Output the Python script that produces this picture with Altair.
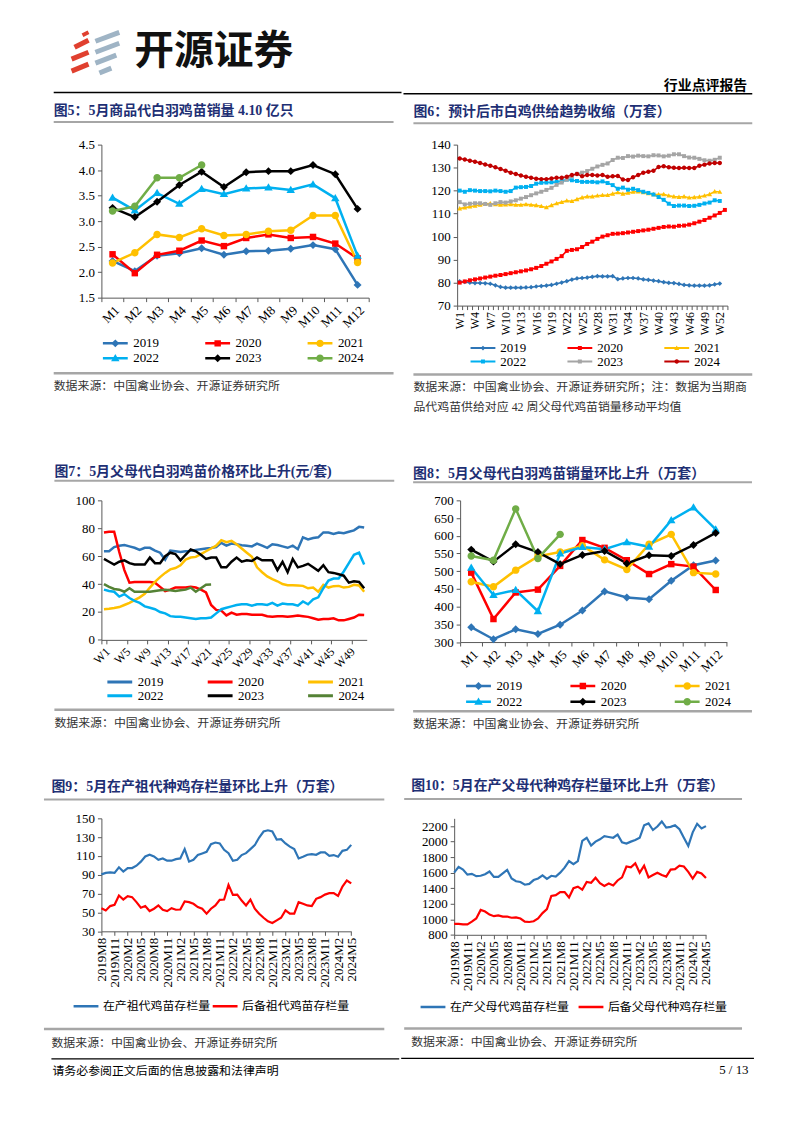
import altair as alt
import pandas as pd

SERIF = "Liberation Serif"
CJK = "Noto Sans CJK SC"
MIX = "Liberation Serif, Noto Sans CJK SC"
NAVY = "#1E2F74"
GRAY_RULE = "#A6A6A6"
AXC = "#595959"

YEARS = ["2019", "2020", "2021", "2022", "2023", "2024"]
MONTHS = ["M1", "M2", "M3", "M4", "M5", "M6", "M7", "M8", "M9", "M10", "M11", "M12"]
WEEKS53 = ["W" + str(i) for i in range(1, 54)]
WEEKS52 = WEEKS53[:52]
W7_LABELS = ["W" + str(i) for i in range(1, 50, 4)]
YM = []
for _y in range(2019, 2025):
    for _m in range(1, 13):
        if (_y == 2019 and _m < 8) or (_y == 2024 and _m > 5):
            continue
        YM.append(str(_y) + "M" + str(_m))
YM_LABELS = YM[::3]

# ---------------- Fig 5: commercial chick sales (100 million) ----------------
f5_2019 = [2.22, 2.02, 2.32, 2.37, 2.47, 2.34, 2.41, 2.42, 2.46, 2.53, 2.45, 1.75]
f5_2020 = [2.35, 1.98, 2.34, 2.42, 2.62, 2.51, 2.67, 2.74, 2.67, 2.69, 2.56, 2.27]
f5_2021 = [2.18, 2.38, 2.74, 2.68, 2.85, 2.72, 2.74, 2.80, 2.82, 3.11, 3.11, 2.19]
f5_2022 = [3.46, 3.21, 3.55, 3.34, 3.63, 3.53, 3.64, 3.66, 3.61, 3.72, 3.45, 2.32]
f5_2023 = [3.26, 3.08, 3.38, 3.71, 3.97, 3.67, 3.96, 3.98, 3.98, 4.10, 3.92, 3.24]
f5_2024 = [3.20, 3.29, 3.85, 3.85, 4.10]

# ---------------- Fig 6: weekly supply (10k sets) ----------------
f6_2019 = [80.5, 80.3, 80.0, 79.8, 79.8, 79.7, 79.5, 78.8, 78.1, 77.8,
           77.8, 77.8, 77.8, 77.9, 78.0, 78.3, 78.5, 78.7, 79.0, 79.5,
           80.0, 80.6, 81.3, 81.8, 82.0, 82.2, 82.5, 82.8, 82.7, 82.7,
           82.8, 81.5, 81.8, 82.0, 82.0, 81.8, 81.4, 81.2, 80.9, 80.6,
           80.2, 79.9, 79.8, 79.4, 79.0, 78.8, 78.7, 78.7, 78.7, 78.8, 79.2, 79.6]
f6_2020 = [80.0, 80.5, 81.0, 81.4, 81.8, 82.2, 82.6, 83.0, 83.3, 83.7,
           84.1, 84.5, 84.9, 85.3, 85.8, 86.4, 87.2, 88.2, 89.2, 90.3,
           91.5, 93.8, 94.2, 94.5, 95.5, 96.8, 97.8, 99.0, 100.0, 100.6,
           101.2, 101.3, 101.5, 101.8, 102.1, 102.4, 102.7, 103.0, 103.4, 103.8,
           104.2, 104.4, 104.3, 104.7, 104.8, 105.2, 105.8, 106.5, 107.2, 108.2, 109.2, 110.3, 111.6]
f6_2021 = [112.2, 112.6, 113.0, 113.4, 113.8, 114.2, 114.4, 114.0, 113.8, 113.9,
           114.0, 113.8, 113.8, 114.0, 113.8, 113.6, 113.2, 112.7, 113.6, 114.4,
           115.0, 115.6, 115.4, 116.2, 117.0, 117.4, 117.4, 117.8, 118.0, 118.0,
           118.6, 119.2, 118.6, 119.0, 119.4, 119.6, 119.2, 118.8, 118.4, 118.3,
           118.4, 117.8, 117.4, 117.2, 117.4, 116.9, 117.1, 117.3, 117.8, 118.4, 119.6, 119.4]
f6_2022 = [120.0, 119.5, 120.2, 120.0, 119.8, 119.8, 119.7, 120.0, 119.8, 119.5,
           119.8, 121.3, 121.5, 121.6, 122.0, 123.0, 123.4, 123.5, 123.6, 123.8,
           124.2, 124.8, 124.5, 124.2, 123.8, 123.8, 123.8, 123.6, 124.0, 123.3,
           122.4, 120.8, 121.3, 120.4, 120.8, 120.2, 119.5, 119.0, 118.3, 117.2,
           116.0, 114.3, 113.3, 113.5, 113.5, 113.3, 113.4, 113.8, 114.4, 114.8, 115.8, 115.5]
f6_2023 = [115.0, 114.0, 114.3, 114.5, 114.5, 114.2, 113.8, 114.5, 115.0, 114.8,
           115.3, 115.8, 116.5, 117.2, 118.0, 118.8, 119.5, 120.3, 121.2, 122.5,
           123.5, 124.8, 126.3, 127.3, 127.8, 128.5, 129.5, 130.5, 131.2, 131.8,
           133.3, 134.3, 134.2, 135.0, 134.8, 135.2, 135.0, 134.9, 135.4, 135.3,
           134.9, 135.2, 135.8, 135.8, 135.0, 134.4, 134.3, 133.8, 133.2, 133.0, 133.4, 134.3]
f6_2024 = [134.0, 133.5, 133.0, 132.6, 132.0, 131.4, 130.8, 130.2, 129.4, 128.6,
           127.8, 127.2, 126.6, 126.0, 125.6, 125.2, 125.0, 125.0, 125.3, 125.6,
           125.6, 126.0, 126.8, 127.2, 126.3, 126.8, 126.8, 126.6, 126.8, 126.0,
           126.2, 126.4, 124.8, 124.6, 125.8, 126.8, 127.8, 128.2, 128.6, 130.3,
           130.6, 130.2, 129.9, 129.8, 129.9, 129.8, 129.8, 130.8, 131.3, 131.8, 132.0, 132.0]

# ---------------- Fig 7: parent-stock chick price (yuan/set) ----------------
f7_2019 = [63.5, 63.5, 66.5, 67.5, 68.0, 67.0, 66.0, 64.5, 66.0, 66.0,
           64.0, 62.5, 57.5, 64.0, 63.5, 63.0, 63.5, 63.8, 64.5, 65.0,
           65.5, 65.8, 66.5, 69.5, 67.5, 69.0, 68.5, 67.8, 67.5, 67.0,
           69.0, 67.5, 66.0, 68.5, 68.0, 67.0, 66.0, 67.5, 65.0, 73.5,
           72.0, 73.0, 73.5, 77.0, 77.0, 76.0, 77.0, 76.5, 77.5, 78.5, 81.0, 80.5]
f7_2020 = [77.0, 77.5, 77.5, 63.0, 50.0, 41.0, 41.5, 41.5, 41.5, 41.5,
           41.0, 38.0, 35.0, 36.0, 37.5, 37.5, 37.5, 38.0, 37.5, 36.0,
           34.0, 25.0, 21.5, 21.0, 17.5, 19.5, 18.0, 18.5, 18.5, 18.0,
           18.0, 18.0, 17.0, 16.5, 17.0, 17.0, 16.5, 17.0, 17.5, 17.0,
           16.5, 15.5, 14.5, 15.0, 15.0, 15.5, 14.0, 14.0, 15.0, 16.0, 18.0, 17.8]
f7_2021 = [22.0, 22.3, 22.8, 23.5, 25.0, 26.5, 28.5, 30.5, 33.0, 37.5,
           41.5, 45.0, 48.0, 50.5, 51.5, 53.5, 57.5, 59.0, 59.5, 61.5,
           63.5, 65.5, 67.5, 71.5, 70.0, 71.0, 68.5, 65.5, 62.5, 59.5,
           52.0, 48.5, 45.5, 43.5, 42.0, 40.0, 39.2, 39.2, 39.0, 38.7,
           37.0, 37.5, 34.5, 39.5, 37.5, 38.5, 38.7, 37.5, 38.0, 39.5, 39.0, 34.5]
f7_2022 = [36.0, 35.0, 34.5, 31.0, 32.8, 30.0, 28.0, 26.5, 24.0, 23.0,
           22.0, 20.0, 19.0, 17.0, 16.5, 16.5, 16.0, 15.5, 15.0, 15.5,
           15.5, 16.0, 19.0, 22.0, 23.0, 24.0, 25.0, 25.5, 25.5, 24.5,
           25.5, 25.5, 25.0, 26.5, 24.5, 26.0, 25.5, 25.5, 24.5, 27.5,
           25.5, 29.0, 30.5, 37.0, 42.5, 44.0, 44.0, 49.0, 55.0, 61.0, 62.5, 54.0]
f7_2023 = [58.0, 56.0, 54.0, 56.0, 57.0, 55.0, 54.0, 54.0, 54.0, 59.0,
           55.0, 55.0, 60.0, 62.5, 61.5, 57.0, 61.0, 64.8, 63.5, 61.0,
           58.0, 59.0, 59.0, 52.0, 52.0, 56.0, 59.0, 56.0, 57.0, 56.5,
           59.0, 57.0, 57.0, 57.0, 50.0, 56.0, 48.5, 58.0, 52.0, 53.0,
           54.5, 52.0, 49.5, 53.5, 48.5, 48.0, 47.0, 46.0, 41.0, 42.0, 41.5, 37.0]
f7_2024 = [40.0, 38.0, 36.5, 36.0, 34.5, 37.0, 34.5, 34.5, 34.5, 34.5,
           35.0, 35.5, 36.0, 35.5, 35.0, 35.5, 36.0, 37.5, 34.5, 37.0, 39.5, 39.7]

# ---------------- Fig 8: parent-stock chick sales (10k sets) ----------------
f8_2019 = [342, 308, 336, 323, 349, 389, 443, 426, 421, 473, 517, 530]
f8_2020 = [496, 365, 440, 448, 515, 588, 566, 531, 492, 520, 513, 447]
f8_2021 = [470, 456, 503, 542, 554, 572, 532, 505, 576, 604, 496, 492]
f8_2022 = [510, 433, 447, 387, 550, 568, 562, 582, 569, 644, 680, 618]
f8_2023 = [561, 527, 576, 554, 520, 546, 557, 522, 545, 543, 574, 608]
f8_2024 = [543, 531, 676, 536, 604]

# ---------------- Fig 9: grandparent stock (10k sets) ----------------
F9_NAMES = ["在产祖代鸡苗存栏量", "后备祖代鸡苗存栏量"]
f9_prod = [90.5, 92.0, 92.6, 92.0, 98.0, 93.4, 97.2, 97.2, 99.7, 104.0,
           109.5, 111.3, 109.5, 106.0, 107.4, 105.0, 105.0, 106.7, 107.4, 117.3,
           104.0, 106.0, 111.0, 112.7, 114.5, 122.6, 124.3, 123.3, 116.6, 113.0,
           105.0, 106.0, 111.0, 113.0, 117.3, 121.5, 129.6, 136.0, 137.3, 136.0,
           127.5, 127.8, 123.3, 120.0, 117.3, 107.4, 109.2, 111.3, 112.0, 111.3,
           113.8, 113.8, 110.2, 111.0, 109.2, 115.5, 116.5, 121.8]
f9_res = [54.6, 52.2, 56.8, 58.2, 68.0, 63.8, 67.3, 66.3, 61.0, 55.0,
          56.8, 51.5, 54.0, 57.5, 52.9, 51.5, 54.6, 52.9, 53.2, 61.7,
          61.0, 59.2, 55.7, 54.0, 48.7, 54.0, 57.5, 63.4, 63.8, 79.3,
          68.7, 69.0, 62.7, 57.5, 63.8, 54.0, 48.7, 44.4, 40.6, 38.8,
          41.6, 44.4, 52.2, 48.7, 48.7, 61.0, 59.2, 57.5, 56.8, 64.5,
          66.3, 69.0, 70.5, 70.5, 67.5, 77.5, 84.0, 81.0]

# ---------------- Fig 10: parent stock (10k sets) ----------------
F10_NAMES = ["在产父母代鸡苗存栏量", "后备父母代种鸡存栏量"]
f10_prod = [1600, 1675, 1640, 1575, 1585, 1555, 1560, 1580, 1615, 1545,
            1545, 1590, 1635, 1525, 1490, 1480, 1445, 1455, 1505, 1525,
            1565, 1520, 1560, 1550, 1600, 1665, 1750, 1710, 1750, 2010,
            2050, 1950, 2000, 2030, 2070, 2060, 2050, 2090, 1990, 1975,
            2000, 2020, 2050, 2210, 2235, 2150, 2195, 2260, 2180, 2190,
            2210, 2160, 2050, 1945, 2120, 2230, 2170, 2200]
f10_res = [940, 940, 935, 935, 970, 1010, 1120, 1100, 1060, 1040,
           1050, 1035, 1035, 1020, 1025, 1010, 970, 965, 975, 1010,
           1080, 1130, 1300, 1310, 1350, 1350, 1280, 1400, 1420, 1380,
           1480, 1470, 1535, 1465, 1430, 1460, 1435, 1500, 1540, 1680,
           1670, 1720, 1600, 1690, 1540, 1570, 1600, 1570, 1550, 1640,
           1645, 1690, 1680, 1610, 1525, 1610, 1590, 1530]


def frame_df(series_names, lists, cats):
    rows = []
    for name, vals in zip(series_names, lists):
        for i, v in enumerate(vals):
            rows.append({"s": name, "x": cats[i], "i": i, "v": v})
    return pd.DataFrame(rows)


ONE = pd.DataFrame({"k": [0]})


def text_layer(x, y, s, size, color="#000000", font=CJK, weight="normal"):
    return alt.Chart(ONE).mark_text(text=s, align="left", baseline="middle", font=font,
                                    fontSize=size, fontWeight=weight, color=color).encode(
        x=alt.value(x), y=alt.value(y))


def seg_layer(x1, y1, x2, y2, color, width, opacity=1.0):
    return alt.Chart(ONE).mark_rule(color=color, strokeWidth=width, strokeOpacity=opacity).encode(
        x=alt.value(x1), x2=alt.value(x2), y=alt.value(y1), y2=alt.value(y2))


RED = "#E0402F"
LG = "#9FB4C5"


def page_items(px, py, items):
    out = []
    for it in items:
        if it[0] == "seg":
            _, x1, y1, x2, y2, c, wd = it
            out.append(seg_layer(x1 - px, y1 - py, x2 - px, y2 - py, c, wd))
        else:
            _, x, y, s, size, c, font, weight = it
            out.append(text_layer(x - px, y - py, s, size, c, font, weight))
    return out


def panel_decor(px, py, cell, row, title, tx, ty, rx1, rx2, ry, by, sources, extras=()):
    cx1, cx2 = cell
    ry1, ry2 = row
    L = [seg_layer(cx1 - px, ry1 - py, cx2 - px, ry2 - py, "#ffffff", 1, 0.0)]
    L.append(text_layer(tx - px, ty - py, title, 14, NAVY, MIX, "bold"))
    L.append(seg_layer(rx1 - px, ry - py, rx2 - px, ry - py, GRAY_RULE, 2))
    L.append(seg_layer(rx1 - px, by - py, rx2 - px, by - py, GRAY_RULE, 2.5))
    for sx, sy, s in sources:
        L.append(text_layer(sx - px, sy - py, s, 12, "#333333", MIX))
    L.extend(page_items(px, py, extras))
    return L


def yaxis(vals, fmt, size):
    return alt.Axis(values=vals, format=fmt, title=None, grid=False, labelFont=SERIF,
                    labelFontSize=size, labelColor="#000000", domainColor=AXC, tickColor=AXC,
                    tickSize=4, labelPadding=3)


def legend(lx, ly, cols, colpad, clip, font, fsize, stype=None, sw=2.5, loff=4, blank=False,
           values=None, limit=60):
    kw = dict(orient="none", legendX=lx, legendY=ly, direction="horizontal", columns=cols,
              columnPadding=colpad, rowPadding=0, clipHeight=clip, symbolSize=625, symbolStrokeWidth=sw,
              symbolOpacity=1, labelFont=font, labelFontSize=fsize, labelColor="#000000",
              labelOffset=loff, padding=0, title=None, labelLimit=limit)
    if stype:
        kw["symbolType"] = stype
    if values is not None:
        kw["values"] = values
    if blank:
        kw["labelExpr"] = "''"
    return alt.Legend(**kw)


YEAR_LABEL_W = 26  # width of a 4-digit year label at 13px Liberation Serif


def marker_panel(df, xenc, yenc, colors, paths, lw, leg_args, w, h, decor):
    base = alt.Chart(df)
    lx, ly, cp, clip, sw = leg_args
    line = base.mark_line(strokeWidth=lw).encode(
        x=xenc, y=yenc,
        stroke=alt.Stroke("s:N", scale=alt.Scale(domain=YEARS + ["-"], range=colors + ["#ffffff"]),
                          legend=legend(lx, ly, 3, cp, clip, SERIF, 13, stype="stroke", sw=sw, values=YEARS)),
        order="i:Q")
    mleg = legend(lx, ly, 3, cp + YEAR_LABEL_W, clip, SERIF, 13, sw=sw, blank=True)
    pts = base.mark_point(filled=True, size=625, opacity=1).encode(
        x=xenc, y=yenc,
        color=alt.Color("s:N", scale=alt.Scale(domain=YEARS, range=colors), legend=mleg),
        shape=alt.Shape("s:N", scale=alt.Scale(domain=YEARS, range=paths), legend=mleg))
    return alt.layer(*decor, line, pts).properties(width=w, height=h)


def line_panel(df, xenc, yenc, names, colors, lw, leg, w, h, decor):
    line = alt.Chart(df).mark_line(strokeWidth=lw).encode(
        x=xenc, y=yenc, color=alt.Color("s:N", scale=alt.Scale(domain=names, range=colors), legend=leg),
        order="i:Q")
    return alt.layer(*decor, line).properties(width=w, height=h)


def band_x(cats, axis):
    return alt.X("x:N", scale=alt.Scale(type="band", domain=cats, paddingInner=0, paddingOuter=0), axis=axis)


def xaxis(angle, size, values=None, label_expr=None, tick_band="extent"):
    kw = dict(title=None, grid=False, labelAngle=angle, labelFont=SERIF, labelFontSize=size,
              labelColor="#000000", domainColor=AXC, tickColor=AXC, tickSize=4, labelPadding=2,
              labelOverlap=False)
    if tick_band:
        kw["tickBand"] = tick_band
    if values is not None:
        kw["values"] = values
    if label_expr is not None:
        kw["labelExpr"] = label_expr
    return alt.Axis(**kw)


DIA = "M0,-0.32L0.32,0L0,0.32L-0.32,0Z"
SQ = "M-0.26,-0.26H0.26V0.26H-0.26Z"
CIR = "M-0.3,0A0.3,0.3 0 1,0 0.3,0A0.3,0.3 0 1,0 -0.3,0Z"
TRI = "M0,-0.34L0.34,0.24L-0.34,0.24Z"
DIA_S = "M0,-0.19L0.19,0L0,0.19L-0.19,0Z"
SQ_S = "M-0.16,-0.16H0.16V0.16H-0.16Z"
CIR_S = "M-0.18,0A0.18,0.18 0 1,0 0.18,0A0.18,0.18 0 1,0 -0.18,0Z"
TRI_S = "M0,-0.2L0.2,0.15L-0.2,0.15Z"

C_MAIN = ["#2E75B6", "#FF0000", "#FFC000", "#00B0F0", "#000000", "#70AD47"]
C6 = ["#2E75B6", "#FF0000", "#FFC000", "#00B0F0", "#A5A5A5", "#C00000"]
C7 = ["#2E75B6", "#FF0000", "#FFC000", "#00B0F0", "#000000", "#548235"]

ROW1 = (8, 445)
ROW2 = (445, 760)
ROW3 = (760, 1100)
CELL_L = (8, 401)
CELL_R = (401, 794)
SRC = "数据来源：中国禽业协会、开源证券研究所"

HEADER_LEFT = [
    ("seg", 72, 44, 86, 37, RED, 5),
    ("seg", 69, 56, 86, 49, RED, 5),
    ("seg", 69, 68, 86, 61, RED, 5),
    ("seg", 80, 32, 86, 29, RED, 4),
    ("seg", 93, 38, 117, 29, LG, 5),
    ("seg", 93, 49, 117, 40, LG, 5),
    ("seg", 93, 60, 114, 52, LG, 5),
    ("seg", 97, 70, 109, 65, LG, 5),
    ("text", 132, 49, "开源证券", 40, "#111111", CJK, "bold"),
    ("seg", 51, 89.5, 401, 89.5, "#000000", 1.5),
]
HEADER_RIGHT = [
    ("text", 663, 82, "行业点评报告", 14, "#000000", CJK, "bold"),
    ("seg", 401, 89.5, 752, 89.5, "#000000", 1.5),
]
FOOTER_LEFT = [
    ("seg", 51, 1056, 401, 1056, "#000000", 1.2),
    ("text", 52, 1068, "请务必参阅正文后面的信息披露和法律声明", 12, "#000000", CJK, "normal"),
]
FOOTER_RIGHT = [
    ("seg", 401, 1056, 756, 1056, "#000000", 1.2),
    ("text", 721, 1068, "5 / 13", 13, "#000000", SERIF, "normal"),
]

# ---- Fig 5 ----
px, py = 99, 142
d5 = frame_df(YEARS, [f5_2019, f5_2020, f5_2021, f5_2022, f5_2023, f5_2024], MONTHS)
p5 = marker_panel(
    d5, band_x(MONTHS, xaxis(-45, 13)),
    alt.Y("v:Q", scale=alt.Scale(domain=[1.5, 4.5], nice=False, zero=False),
          axis=yaxis([1.5, 2.0, 2.5, 3.0, 3.5, 4.0, 4.5], ".1f", 13)),
    C_MAIN, [DIA, SQ, CIR, TRI, DIA, CIR], 2.5,
    (0, 192.5, 45, 15, 2.5), 269, 154,
    panel_decor(px, py, CELL_L, ROW1, "图5：5月商品代白羽鸡苗销量 4.10 亿只", 51, 108, 51, 393, 119.3, 372,
                [(51, 385, SRC)], HEADER_LEFT))

# ---- Fig 6 ----
px, py = 455, 140.7
d6 = frame_df(YEARS, [f6_2019, f6_2020, f6_2021, f6_2022, f6_2023, f6_2024], WEEKS53)
p6 = marker_panel(
    d6, band_x(WEEKS53, xaxis(-90, 12, label_expr="(parseInt(substring(datum.value,1)) - 1) % 3 == 0 && parseInt(substring(datum.value,1)) < 53 ? datum.value : ''")),
    alt.Y("v:Q", scale=alt.Scale(domain=[70, 140], nice=False, zero=False),
          axis=yaxis(list(range(70, 141, 10)), "d", 13)),
    C6, [DIA_S, SQ_S, TRI_S, SQ_S, SQ_S, CIR_S], 1.6,
    (12.5, 198.2, 40.5, 12.3, 2), 272, 162,
    panel_decor(px, py, CELL_R, ROW1, "图6：预计后市白鸡供给趋势收缩（万套）", 411, 108, 411, 752, 119.3, 372,
                [(411, 385, "数据来源：中国禽业协会、开源证券研究所；注：数据为当期商"),
                 (411, 405, "品代鸡苗供给对应 42 周父母代鸡苗销量移动平均值")], HEADER_RIGHT))

# ---- Fig 7 ----
px, py = 98.3, 497.3
d7 = frame_df(YEARS, [f7_2019, f7_2020, f7_2021, f7_2022, f7_2023, f7_2024], WEEKS52)
p7 = line_panel(
    d7, band_x(WEEKS52, xaxis(-45, 12, values=W7_LABELS)),
    alt.Y("v:Q", scale=alt.Scale(domain=[0, 100], nice=False, zero=False),
          axis=yaxis(list(range(0, 101, 20)), "d", 13)),
    YEARS, C7, 2.5, legend(4.5, 175.7, 3, 43, 14, SERIF, 13, stype="stroke", sw=3), 267, 140.4,
    panel_decor(px, py, CELL_L, ROW2, "图7：5月父母代白羽鸡苗价格环比上升(元/套)", 51, 469, 51, 393, 477.5, 708,
                [(51, 721, SRC)]))

# ---- Fig 8 ----
px, py = 458.3, 495.7
d8 = frame_df(YEARS, [f8_2019, f8_2020, f8_2021, f8_2022, f8_2023, f8_2024], MONTHS)
p8 = marker_panel(
    d8, band_x(MONTHS, xaxis(-45, 13)),
    alt.Y("v:Q", scale=alt.Scale(domain=[300, 700], nice=False, zero=False),
          axis=yaxis(list(range(300, 701, 50)), "d", 13)),
    C_MAIN, [DIA, SQ, CIR, TRI, DIA, CIR], 2.5,
    (4.5, 178.9, 47, 15.4, 2.5), 268.4, 142.6,
    panel_decor(px, py, CELL_R, ROW2, "图8：5月父母代白羽鸡苗销量环比上升（万套）", 411, 469, 411, 752, 477.5, 708,
                [(411, 721, SRC)]))

# ---- Fig 9 ----
# the left cell of the last row is framed slightly wider on the left; the plot starts at 101.3
px, py = 101.3, 814
d9 = frame_df(F9_NAMES, [f9_prod, f9_res], YM)
x9 = alt.X("x:N", scale=alt.Scale(type="point", domain=YM, padding=0),
           axis=xaxis(-90, 13, values=YM_LABELS, tick_band=None))
p9 = line_panel(
    d9, x9,
    alt.Y("v:Q", scale=alt.Scale(domain=[30, 150], nice=False, zero=False),
          axis=yaxis(list(range(30, 151, 20)), "d", 13)),
    F9_NAMES, ["#2E75B6", "#FF0000"], 2.2,
    legend(-29.5, 181.5, 2, 0, 15, CJK, 12, stype="stroke", sw=2.5, loff=3, limit=140), 251.4, 113.7,
    panel_decor(px, py, CELL_L, ROW3, "图9：5月在产祖代种鸡存栏量环比上升（万套）", 51, 782, 43.5, 386, 795, 1026,
                [(51, 1040, SRC)], FOOTER_LEFT))

# ---- Fig 10 ----
px, py = 454.3, 814.5
d10 = frame_df(F10_NAMES, [f10_prod, f10_res], YM)
x10 = alt.X("x:N", scale=alt.Scale(type="point", domain=YM, padding=0),
            axis=xaxis(-90, 13, values=YM_LABELS, tick_band=None))
p10 = line_panel(
    d10, x10,
    alt.Y("v:Q", scale=alt.Scale(domain=[800, 2300], nice=False, zero=False),
          axis=yaxis(list(range(800, 2201, 200)), "d", 13)),
    F10_NAMES, ["#2E75B6", "#FF0000"], 2.2,
    legend(-35.3, 182.3, 2, 7, 15, CJK, 12, stype="stroke", sw=2.5, loff=3, limit=140), 253.4, 117.2,
    panel_decor(px, py, CELL_R, ROW3, "图10：5月在产父母代种鸡存栏量环比上升（万套）", 411, 782, 404, 744, 795, 1026,
                [(411, 1040, SRC)], FOOTER_RIGHT))

IND = dict(color="independent", fill="independent", stroke="independent", shape="independent")


def indep(c):
    return c.resolve_scale(**IND).resolve_legend(**IND)


row1 = indep(alt.hconcat(p5, p6, spacing=0))
row2 = indep(alt.hconcat(p7, p8, spacing=0))
row3 = indep(alt.hconcat(p9, p10, spacing=0))

chart = indep(alt.vconcat(row1, row2, row3, spacing=0)).properties(
    padding=0, background="#ffffff"
).configure_view(strokeWidth=0).configure_axis(labelFont=SERIF)

chart.save("out.html", embed_options={"renderer": "svg", "actions": False})
